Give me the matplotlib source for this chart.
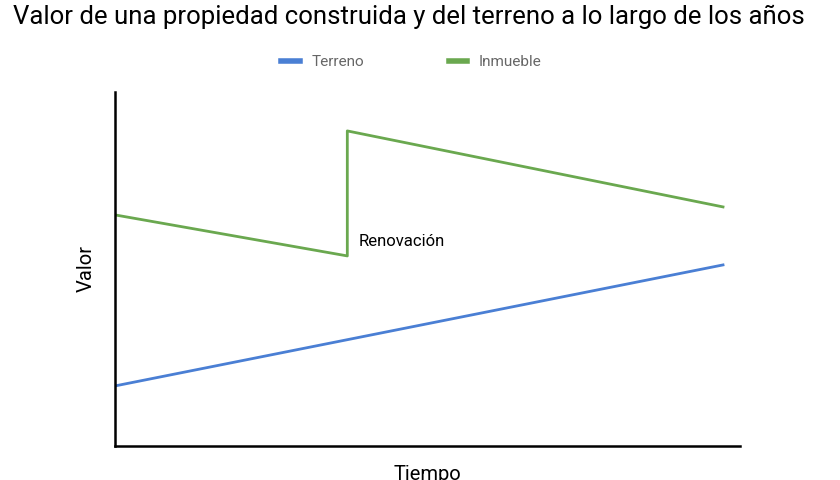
import matplotlib
matplotlib.use("Agg")
import matplotlib.pyplot as plt

plt.rcParams['font.family'] = ['Roboto', 'DejaVu Sans']

tiempo_terreno = [0, 10]
valor_terreno = [60, 181]
tiempo_inmueble = [0, 3.82, 3.82, 10]
valor_inmueble = [231, 190, 315, 239]

fig = plt.figure(figsize=(8.4, 4.8), dpi=100)
ax = fig.add_axes([0.137, 0.071, 0.744, 0.7375])
ax.plot(tiempo_terreno, valor_terreno, color='#4a7fd4', lw=2, label='Terreno')
ax.plot(tiempo_inmueble, valor_inmueble, color='#6aa84f', lw=2, label='Inmueble')
ax.set_xlim(0, 10.28)
ax.set_ylim(0, 354)
ax.set_xticks([]); ax.set_yticks([])
for s in ['top', 'right']:
    ax.spines[s].set_visible(False)
for s in ['left', 'bottom']:
    ax.spines[s].set_linewidth(1.8)
    ax.spines[s].set_color('black')
ax.text(4.0, 204, 'Renovación', fontsize=12, va='center', ha='left')
ax.set_xlabel('Tiempo', fontsize=14.5, labelpad=14)
ax.set_ylabel('Valor', fontsize=14.5, labelpad=14)
fig.text(0.487, 0.965, 'Valor de una propiedad construida y del terreno a lo largo de los años',
         ha='center', va='center', fontsize=18.5)
leg = fig.legend(loc='center', bbox_to_anchor=(0.49, 0.87), ncol=2, frameon=False,
                 fontsize=11, handlelength=1.2, columnspacing=5.5)
for t in leg.get_texts():
    t.set_color('#666666')
for h in leg.legend_handles:
    h.set_linewidth(4)
fig.savefig('out.png', dpi=100)
